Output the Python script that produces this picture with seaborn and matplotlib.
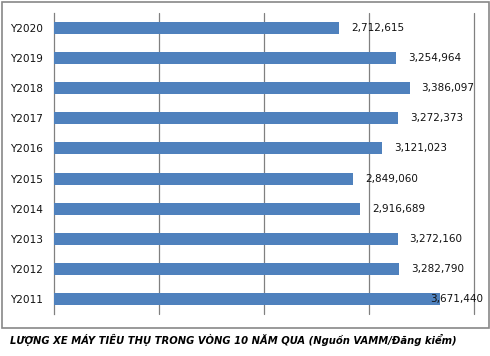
import numpy as np
import pandas as pd
import matplotlib
matplotlib.use("Agg")
import matplotlib.pyplot as plt
import seaborn as sns
from matplotlib.patches import Rectangle

# data
years = ['Y2020', 'Y2019', 'Y2018', 'Y2017', 'Y2016',
         'Y2015', 'Y2014', 'Y2013', 'Y2012', 'Y2011']
sales = [2712615, 3254964, 3386097, 3272373, 3121023,
         2849060, 2916689, 3272160, 3282790, 3671440]
grid_vals = [1e6, 2e6, 3e6, 4e6]
caption = 'LƯỢNG XE MÁY TIÊU THỤ TRONG VÒNG 10 NĂM QUA (Nguồn VAMM/Đăng kiểm)'

df = pd.DataFrame({'year': years, 'sales': sales})

sns.set_style('white')
plt.rcParams['font.family'] = ['DejaVu Sans']

fig = plt.figure(figsize=(4.9, 3.56), dpi=100)
ax = fig.add_axes([54/490, 1 - 314/356, (474 - 54)/490, (314 - 13)/356])

sns.barplot(data=df, x='sales', y='year', order=years, color='#4F81BD',
            saturation=1, width=0.4, linewidth=0, ax=ax, zorder=3)

ax.set_xlim(0, 4e6)
ax.set_ylim(9.5, -0.5)
for g in grid_vals:
    ax.axvline(g, color='#808080', lw=0.9, ls='-', zorder=1, clip_on=False)

for s in ['top', 'right', 'bottom']:
    ax.spines[s].set_visible(False)
ax.spines['left'].set_color('#808080')
ax.spines['left'].set_linewidth(0.9)

ax.set_xticks([])
ax.set_xlabel('')
ax.set_ylabel('')
ax.set_yticks(range(len(years)))
ax.set_yticklabels(years, fontsize=7.6, color='#111111')
ax.tick_params(axis='y', which='major', length=0, pad=8)
ax.set_yticks(np.arange(-0.5, len(years)), minor=True)
ax.tick_params(axis='y', which='minor', length=4, color='#808080', width=0.9)

# value labels, kept inside the chart frame like the original
for i, v in enumerate(sales):
    xpos = min(v + 0.115e6, 3.585e6)
    ax.text(xpos, i, f'{v:,}', va='center', ha='left', fontsize=7.5,
            color='#111111', zorder=4)

# outer chart frame
fig.patches.append(Rectangle((1.5/490, 1 - 327.5/356), 487/490, 326/356,
                             transform=fig.transFigure, fill=False,
                             edgecolor='#888888', lw=1.2))

fig.text(10/490, 1 - 340/356, caption, ha='left', va='center',
         fontsize=7.2, fontweight='bold', fontstyle='italic', color='black')

fig.savefig('out.png', dpi=100)
